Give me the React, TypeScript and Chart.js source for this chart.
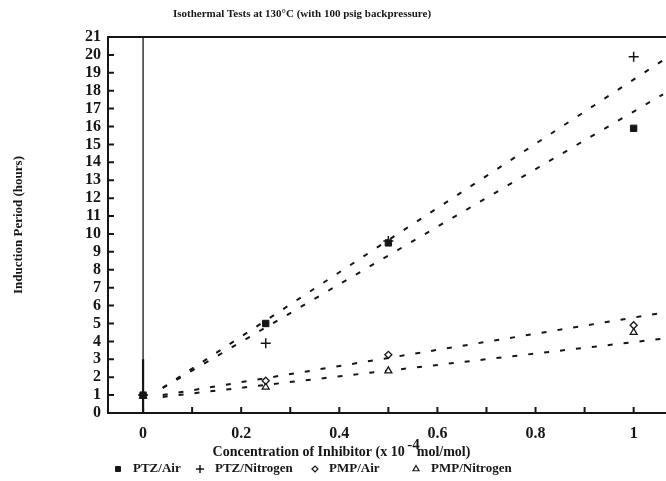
import React, { useEffect, useRef } from 'react';
import { Chart, registerables } from 'chart.js';
import { drawPoint } from 'chart.js/helpers';

Chart.register(...registerables);

// Data
const concentrations = [0, 0.25, 0.5, 1];
const ptzAir = [1, 5.0, 9.5, 15.9];
const ptzNitrogen = [1, 3.9, 9.6, 19.9];
const pmpAir = [1, 1.8, 3.25, 4.9];
const pmpNitrogen = [0.95, 1.45, 2.35, 4.5];

// Dashed trend lines (endpoints)
const fitX = [0.04, 1.06];
const ptzNitrogenFit = [1.4, 19.7];
const ptzAirFit = [1.4, 17.8];
const pmpAirFit = [1.0, 5.6];
const pmpNitrogenFit = [0.9, 4.15];

const xTicks = [0, 0.1, 0.2, 0.3, 0.4, 0.5, 0.6, 0.7, 0.8, 0.9, 1.0];
const yTicks = [0, 1, 2, 3, 4, 5, 6, 7, 8, 9, 10, 11, 12, 13, 14, 15, 16, 17, 18, 19, 20, 21];

const seriesNames = ['PTZ/Air', 'PTZ/Nitrogen', 'PMP/Air', 'PMP/Nitrogen'];
const titleText = 'Isothermal Tests at 130°C (with 100 psig backpressure)';
const yTitle = 'Induction Period (hours)';
const xTitleMain = 'Concentration of Inhibitor (x 10';
const xTitleSup = '-4';
const xTitleEnd = 'mol/mol)';

const INK = '#161616';
const SERIF = '"Liberation Serif", "DejaVu Serif", serif';

const pts = (xs: number[], ys: number[]) => xs.map((x, i) => ({ x, y: ys[i] }));

const decorPlugin = {
  id: 'decor',
  afterDraw(chart: any) {
    const ctx = chart.ctx;
    const xs = chart.scales.x;
    const ys = chart.scales.y;
    const area = chart.chartArea;
    ctx.save();
    ctx.strokeStyle = INK;
    ctx.fillStyle = INK;
    // inward tick marks
    ctx.lineWidth = 2;
    ctx.beginPath();
    for (const v of yTicks) {
      if (v === 0 || v === 21) continue;
      const y = ys.getPixelForValue(v);
      ctx.moveTo(area.left, y);
      ctx.lineTo(area.left + 6, y);
    }
    for (const v of xTicks) {
      const x = xs.getPixelForValue(v);
      ctx.moveTo(x, area.bottom);
      ctx.lineTo(x, area.bottom - 6);
    }
    ctx.stroke();

    // title
    ctx.font = `bold 11px ${SERIF}`;
    ctx.textAlign = 'center';
    ctx.textBaseline = 'middle';
    ctx.fillText(titleText, 302, 14);

    // x axis title with superscript
    ctx.font = `bold 14px ${SERIF}`;
    const w1 = ctx.measureText(xTitleMain + ' ').width;
    const w3 = ctx.measureText(xTitleEnd).width;
    ctx.font = `bold 15px ${SERIF}`;
    const w2 = ctx.measureText(xTitleSup).width;
    const total = w1 + w2 - 3 + w3;
    const x0 = 342 - total / 2;
    const ty = 452;
    ctx.textAlign = 'left';
    ctx.textBaseline = 'alphabetic';
    ctx.font = `bold 14px ${SERIF}`;
    ctx.fillText(xTitleMain + ' ', x0, ty + 4);
    ctx.font = `bold 15px ${SERIF}`;
    ctx.fillText(xTitleSup, x0 + w1 - 1, ty - 3);
    ctx.font = `bold 14px ${SERIF}`;
    ctx.fillText(xTitleEnd, x0 + w1 + w2 - 4, ty + 4);

    // legend
    const legendY = 469;
    const markerX = [118, 200, 315, 416];
    const textX = [133, 215, 329, 431];
    const styles = [
      { pointStyle: 'rect', radius: 3.5, borderWidth: 1, fill: INK },
      { pointStyle: 'cross', radius: 4, borderWidth: 1.5, fill: INK },
      { pointStyle: 'rectRot', radius: 3, borderWidth: 1.2, fill: '#fff' },
      { pointStyle: 'triangle', radius: 3.5, borderWidth: 1.2, fill: '#fff' },
    ];
    ctx.font = `bold 13px ${SERIF}`;
    ctx.textBaseline = 'middle';
    seriesNames.forEach((name, i) => {
      const s = styles[i];
      ctx.fillStyle = s.fill;
      ctx.strokeStyle = INK;
      ctx.lineWidth = s.borderWidth;
      drawPoint(ctx, { pointStyle: s.pointStyle as any, radius: s.radius, borderWidth: s.borderWidth, rotation: 0 }, markerX[i], legendY);
      ctx.fillStyle = INK;
      ctx.fillText(name, textX[i], legendY);
    });
    ctx.restore();
  },
};

export default function App() {
  const ref = useRef<HTMLCanvasElement>(null);
  useEffect(() => {
    if (!ref.current) return;
    const lineDs = (data: number[]) => ({
      type: 'line' as const,
      data: pts(fitX, data),
      showLine: true,
      borderColor: INK,
      borderWidth: 2,
      borderDash: [5, 11],
      pointRadius: 0,
      fill: false,
    });
    const chart = new Chart(ref.current, {
      type: 'scatter',
      data: {
        datasets: [
          { label: seriesNames[0], data: pts(concentrations, ptzAir), pointStyle: 'rect', pointRadius: 4.5, backgroundColor: INK, borderColor: INK, borderWidth: 1 },
          { label: seriesNames[1], data: pts(concentrations, ptzNitrogen), pointStyle: 'cross', pointRadius: 5, backgroundColor: INK, borderColor: INK, borderWidth: 1.5 },
          { label: seriesNames[2], data: pts(concentrations, pmpAir), pointStyle: 'rectRot', pointRadius: 3.5, backgroundColor: '#fff', borderColor: INK, borderWidth: 1.3 },
          { label: seriesNames[3], data: pts(concentrations, pmpNitrogen), pointStyle: 'triangle', pointRadius: 4, backgroundColor: '#fff', borderColor: INK, borderWidth: 1.3 },
          lineDs(ptzNitrogenFit),
          lineDs(ptzAirFit),
          lineDs(pmpAirFit),
          lineDs(pmpNitrogenFit),
          {
            type: 'line' as const,
            data: [{ x: 0, y: 0 }, { x: 0, y: 21 }],
            showLine: true,
            borderColor: INK,
            borderWidth: 1.3,
            pointRadius: 0,
          },
          {
            type: 'line' as const,
            data: [{ x: 0, y: 0 }, { x: 0, y: 3 }],
            showLine: true,
            borderColor: INK,
            borderWidth: 2.2,
            pointRadius: 0,
          },
        ] as any,
      },
      options: {
        responsive: false,
        animation: false,
        layout: { padding: { top: 37, left: 0, right: 0, bottom: 0 } },
        plugins: {
          legend: { display: false },
          title: { display: false },
          tooltip: { enabled: false },
        },
        scales: {
          x: {
            type: 'linear',
            min: -0.0715,
            max: 1.069,
            afterBuildTicks: (s: any) => { s.ticks = xTicks.map((v) => ({ value: v })); },
            afterFit: (s: any) => { s.height = 68; },
            grid: { display: false, drawTicks: false },
            border: { display: true, color: INK, width: 2 },
            ticks: {
              padding: 11,
              maxRotation: 0,
              autoSkip: false,
              color: INK,
              font: { family: SERIF, size: 16, weight: 'bold' },
              callback: (v: any) => {
                const n = Math.round(Number(v) * 10);
                return n % 2 === 0 ? String(n / 10) : '';
              },
            },
          },
          y: {
            type: 'linear',
            min: 0,
            max: 21,
            afterBuildTicks: (s: any) => { s.ticks = yTicks.map((v) => ({ value: v })); },
            afterFit: (s: any) => { s.width = 108; },
            grid: {
              drawTicks: false,
              color: (c: any) => (c.tick && c.tick.value === 21 ? INK : 'rgba(0,0,0,0)'),
              lineWidth: 2,
            },
            border: { display: true, color: INK, width: 2 },
            title: {
              display: true,
              text: yTitle,
              color: INK,
              font: { family: SERIF, size: 13, weight: 'bold' },
              padding: { top: 11, bottom: 0 },
            },
            ticks: {
              padding: 7,
              autoSkip: false,
              color: INK,
              font: { family: SERIF, size: 16, weight: 'bold' },
              callback: (v: any) => String(v),
            },
          },
        },
      },
      plugins: [decorPlugin],
    });
    return () => chart.destroy();
  }, []);
  return (
    <div style={{ position: 'absolute', left: 0, top: 0, width: 666, height: 481, overflow: 'hidden', background: '#fff' }}>
      <canvas ref={ref} width={674} height={481} style={{ display: 'block' }} />
    </div>
  );
}
